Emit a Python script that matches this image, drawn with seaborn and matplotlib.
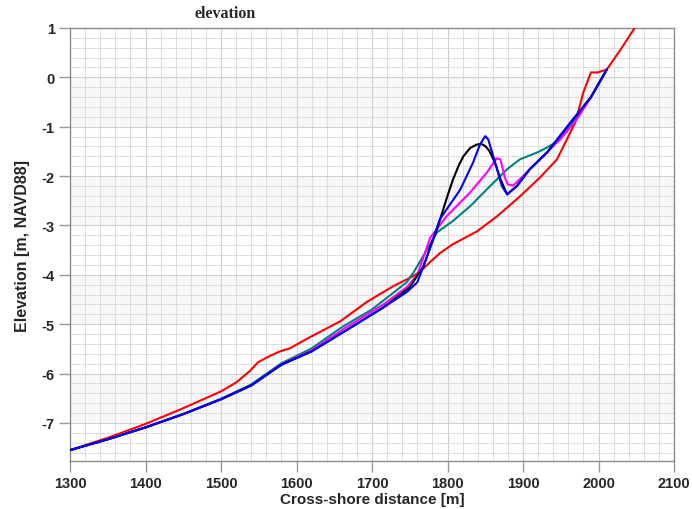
import numpy as np
import pandas as pd
import matplotlib
matplotlib.use("Agg")
import matplotlib.pyplot as plt
from matplotlib.ticker import MultipleLocator
import seaborn as sns

# ---- data ----
red_x = [1300, 1350, 1400, 1450, 1500, 1520, 1538, 1549, 1565, 1578, 1591, 1618, 1658, 1693, 1728, 1754,
         1764, 1777, 1790, 1807, 1839, 1866, 1896, 1923, 1945, 1969, 1975, 1980, 1990, 1999, 2011,
         2030, 2050]
red_y = [-7.55, -7.30, -7.02, -6.70, -6.36, -6.18, -5.95, -5.77, -5.64, -5.55, -5.49, -5.26, -4.94, -4.55,
         -4.23, -4.03, -3.93, -3.74, -3.56, -3.38, -3.12, -2.81, -2.41, -2.02, -1.66, -0.92, -0.59,
         -0.30, 0.10, 0.10, 0.16, 0.58, 1.05]

teal_x = [1300, 1350, 1400, 1450, 1500, 1540, 1580, 1620, 1660, 1700, 1746, 1755, 1764, 1786, 1807, 1830,
          1852, 1879, 1896, 1919, 1932, 1949, 1966, 1990, 2011]
teal_y = [-7.55, -7.33, -7.09, -6.82, -6.51, -6.22, -5.79, -5.49, -5.06, -4.70, -4.15, -3.95, -3.72, -3.14,
          -2.91, -2.61, -2.27, -1.86, -1.66, -1.52, -1.42, -1.26, -0.92, -0.40, 0.16]

blue_x = [1300, 1350, 1400, 1450, 1500, 1540, 1580, 1620, 1662, 1715, 1746, 1760, 1770, 1790, 1817, 1834,
          1843, 1850, 1854, 1863, 1872, 1879, 1892, 1909, 1932, 1958, 1990, 2011]
blue_y = [-7.55, -7.33, -7.09, -6.82, -6.52, -6.24, -5.82, -5.55, -5.16, -4.66, -4.35, -4.15, -3.75, -2.87,
          -2.27, -1.72, -1.36, -1.19, -1.26, -1.72, -2.20, -2.37, -2.20, -1.86, -1.52, -1.01, -0.40, 0.16]

black_x = [1300, 1350, 1400, 1450, 1500, 1540, 1580, 1620, 1662, 1715, 1750, 1768, 1786, 1800, 1807, 1815,
           1821, 1830, 1839, 1845, 1850, 1855, 1859, 1865, 1870, 1879, 1892, 1909, 1932, 1958, 1990, 2011]
black_y = [-7.55, -7.33, -7.09, -6.82, -6.52, -6.24, -5.82, -5.55, -5.16, -4.66, -4.25, -3.83, -3.08, -2.40,
           -2.08, -1.78, -1.60, -1.43, -1.36, -1.35, -1.39, -1.48, -1.60, -1.82, -2.06, -2.37, -2.20, -1.86,
           -1.52, -1.01, -0.40, 0.16]

mag_x = [1300, 1350, 1400, 1450, 1500, 1540, 1580, 1620, 1662, 1715, 1746, 1760, 1777, 1799, 1830, 1852,
         1865, 1870, 1876, 1880, 1887, 1900, 1922, 1949, 1970, 1990, 2011]
mag_y = [-7.55, -7.33, -7.09, -6.82, -6.52, -6.24, -5.81, -5.53, -5.10, -4.60, -4.25, -4.00, -3.25, -2.81,
         -2.33, -1.93, -1.64, -1.66, -2.03, -2.17, -2.19, -2.00, -1.66, -1.26, -0.88, -0.40, 0.16]

band_edges = [(-1, 0), (-3, -2), (-5, -4), (-7, -6)]

series = [("red", red_x, red_y, "#ff0000"),
          ("teal", teal_x, teal_y, "#008080"),
          ("magenta", mag_x, mag_y, "#ff00ff"),
          ("black", black_x, black_y, "#000000"),
          ("blue", blue_x, blue_y, "#0000ff")]

sns.set_style("white")
plt.rcParams['font.family'] = ['Liberation Sans', 'DejaVu Sans']
plt.rcParams['axes.unicode_minus'] = False

fig = plt.figure(figsize=(6.92, 5.10), dpi=100)
ax = fig.add_axes([70 / 692, 1 - 462 / 510, (674 - 70) / 692, (462 - 29) / 510])

for lo, hi in band_edges:
    ax.axhspan(lo, hi, color="#f7f7f7", zorder=0, lw=0)

for name, xs, ys, col in series:
    df = pd.DataFrame({"x": xs, "y": ys})
    sns.lineplot(data=df, x="x", y="y", ax=ax, color=col, lw=1.5, sort=False,
                 estimator=None, zorder=3)

ax.set_xlim(1300, 2100)
ax.set_ylim(-7.77, 1)
ax.xaxis.set_major_locator(MultipleLocator(100))
ax.xaxis.set_minor_locator(MultipleLocator(20))
ax.yaxis.set_major_locator(MultipleLocator(1))
ax.yaxis.set_minor_locator(MultipleLocator(0.2))
ax.grid(which="major", color="#d0d0d0", lw=0.8, zorder=1)
ax.grid(which="minor", color="#dcdcdc", lw=0.7, zorder=1)
ax.set_axisbelow(True)

for s in ax.spines.values():
    s.set_color("#8c8c8c")
    s.set_linewidth(1.0)

ax.tick_params(which="major", direction="out", length=8, width=1, color="#9a9a9a",
               labelsize=10.5, pad=3, left=True, bottom=True)
ax.tick_params(which="minor", length=0)
for lab in ax.get_xticklabels() + ax.get_yticklabels():
    lab.set_fontweight("bold")

ax.set_xlabel("Cross-shore distance [m]", fontsize=11, fontweight="bold", labelpad=1)
ax.set_ylabel("Elevation [m, NAVD88]", fontsize=11.5, fontweight="bold", labelpad=8)

fig.text(225 / 692, 1 - 14 / 510, "elevation", ha="center", va="center",
         fontsize=11.5, fontweight="bold", family=["Liberation Serif", "DejaVu Serif"])

fig.savefig("out.png", dpi=100)
